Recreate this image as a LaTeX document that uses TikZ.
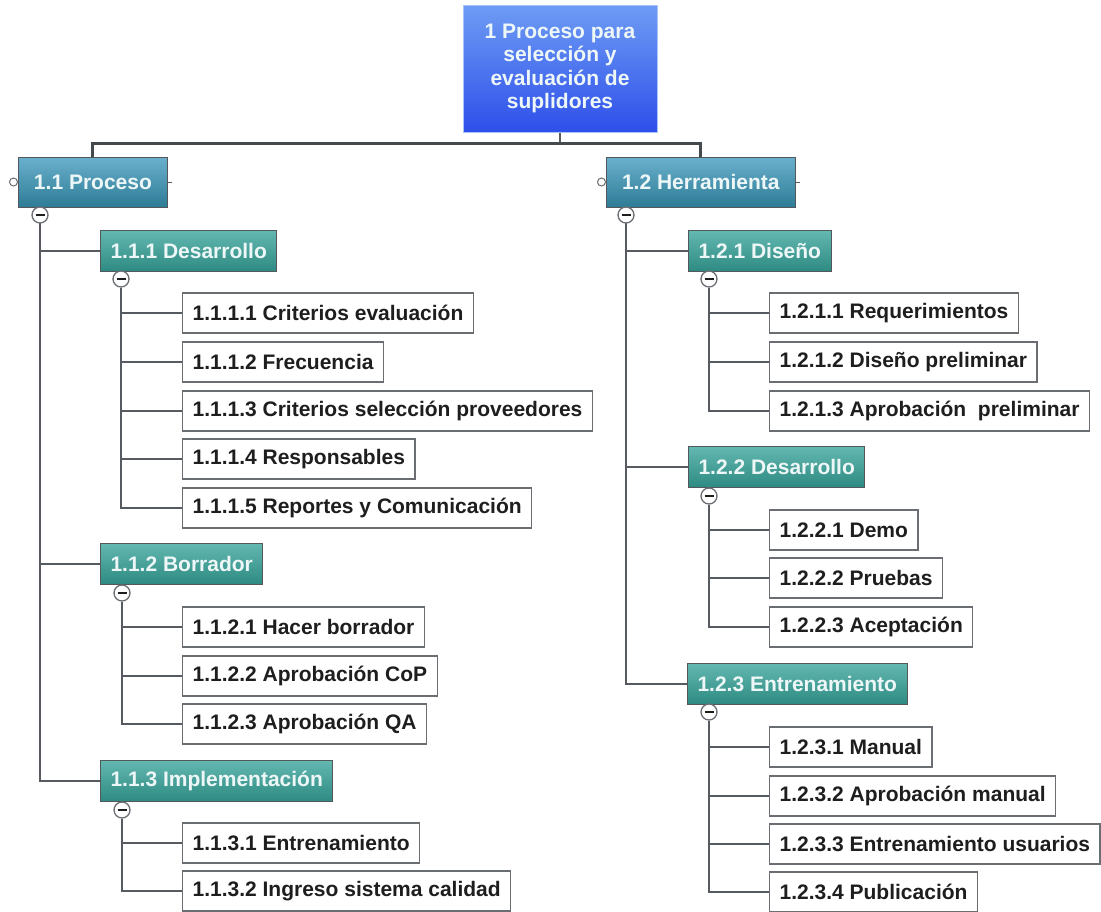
\documentclass[tikz,border=0pt]{standalone}
\usepackage{fontspec}
\setmainfont{Liberation Sans}
\usetikzlibrary{shadings}
\definecolor{rootTop}{HTML}{6E9CF4}
\definecolor{rootBot}{HTML}{2E4FEA}
\definecolor{lvlOneTop}{HTML}{6AB0CC}
\definecolor{lvlOneBot}{HTML}{2E7C97}
\definecolor{lvlTwoTop}{HTML}{63B8B0}
\definecolor{lvlTwoBot}{HTML}{2D8A82}
\definecolor{lineGray}{HTML}{555B60}
\definecolor{boxGray}{HTML}{6A6E72}
\definecolor{inkDark}{HTML}{1E1E1E}
\definecolor{inkLight}{HTML}{EEF7F7}
\tikzset{
  every node/.style={font=\fontsize{21}{23}\selectfont\bfseries},
  rootbox/.style={draw=rootTop!60!white, line width=1pt, top color=rootTop, bottom color=rootBot,
    text=inkLight, align=center, minimum width=194, minimum height=127, inner sep=0,
    font=\fontsize{21}{23.5}\selectfont\bfseries},
  lvlone/.style={draw=boxGray!80!black, line width=1pt, top color=lvlOneTop, bottom color=lvlOneBot,
    text=inkLight, anchor=west, minimum height=50, inner xsep=15.5, inner ysep=0},
  lvltwo/.style={draw=boxGray!80!black, line width=1pt, top color=lvlTwoTop, bottom color=lvlTwoBot,
    text=inkLight, anchor=west, minimum height=41, inner xsep=10, inner ysep=0},
  leaf/.style={draw=boxGray, line width=1.2pt, fill=white, text=inkDark, anchor=west,
    minimum height=40, inner xsep=10, inner ysep=0},
  conn/.style={draw=lineGray, line width=1.5pt},
  bus/.style={draw=lineGray!80!black, line width=3pt},
  knob/.style={circle, draw=boxGray, line width=1pt, fill=white, minimum size=8, inner sep=0},
  collapse/.style={circle, draw=boxGray, line width=1.3pt, fill=white, minimum size=16, inner sep=0,
    path picture={\draw[line width=2pt, inkDark]
      ([xshift=-4.5pt]path picture bounding box.center) -- ([xshift=4.5pt]path picture bounding box.center);}},
}
\begin{document}
\begin{tikzpicture}[x=1pt, y=-1pt]
\useasboundingbox (0,0) rectangle (1101,911);

% top node and the bus to the two main branches
\node[rootbox] (root) at (560,68.5) {1 Proceso para\\selección y\\evaluación de\\suplidores};
\node[lvlone] (n11) at (18,182) {1.1 Proceso};
\node[lvlone] (n12) at (606,182) {1.2 Herramienta};
\coordinate (bus) at (560,143);
\draw[conn] (root.south) -- (bus);
\draw[bus] (n11.north) |- (bus) -| (n12.north);

% small handles on the main branch boxes
\node[knob, anchor=east] (k11) at (n11.west) {};
\node[knob, anchor=east] (k12) at (n12.west) {};
\coordinate (s11) at ([xshift=4pt]n11.east);
\coordinate (s12) at ([xshift=4pt]n12.east);
\draw[conn, line width=1pt] (n11.east) -- (s11);
\draw[conn, line width=1pt] (n12.east) -- (s12);

% ---------- branch 1.1 ----------
\node[lvltwo] (n111) at (100,251) {1.1.1 Desarrollo};
\node[lvltwo] (n112) at (100,564) {1.1.2 Borrador};
\node[lvltwo] (n113) at (100,781) {1.1.3 Implementación};

\node[leaf] (n1111) at (182,313) {1.1.1.1 Criterios evaluación};
\node[leaf] (n1112) at (182,362) {1.1.1.2 Frecuencia};
\node[leaf] (n1113) at (182,411) {1.1.1.3 Criterios selección proveedores};
\node[leaf] (n1114) at (182,459) {1.1.1.4 Responsables};
\node[leaf] (n1115) at (182,508) {1.1.1.5 Reportes y Comunicación};

\node[leaf] (n1121) at (182,627) {1.1.2.1 Hacer borrador};
\node[leaf] (n1122) at (182,676) {1.1.2.2 Aprobación CoP};
\node[leaf] (n1123) at (182,724) {1.1.2.3 Aprobación QA};

\node[leaf] (n1131) at (182,843) {1.1.3.1 Entrenamiento};
\node[leaf] (n1132) at (182,891) {1.1.3.2 Ingreso sistema calidad};

% ---------- branch 1.2 ----------
\node[lvltwo] (n121) at (688,251) {1.2.1 Diseño};
\node[lvltwo] (n122) at (688,467) {1.2.2 Desarrollo};
\node[lvltwo] (n123) at (687,684) {1.2.3 Entrenamiento};

\node[leaf] (n1211) at (769,313) {1.2.1.1 Requerimientos};
\node[leaf] (n1212) at (769,362) {1.2.1.2 Diseño preliminar};
\node[leaf] (n1213) at (769,411) {1.2.1.3 Aprobación\ \ preliminar};

\node[leaf] (n1221) at (769,530) {1.2.2.1 Demo};
\node[leaf] (n1222) at (769,578) {1.2.2.2 Pruebas};
\node[leaf] (n1223) at (769,627) {1.2.2.3 Aceptación};

\node[leaf] (n1231) at (769,747) {1.2.3.1 Manual};
\node[leaf] (n1232) at (769,796) {1.2.3.2 Aprobación manual};
\node[leaf] (n1233) at (769,844) {1.2.3.3 Entrenamiento usuarios};
\node[leaf] (n1234) at (769,892) {1.2.3.4 Publicación};

% ---------- tree connectors ----------
\draw[conn] (40,214) |- (n113.west);
\draw[conn] (40,214 |- n111.west) -- (n111.west);
\draw[conn] (40,214 |- n112.west) -- (n112.west);

\draw[conn] (626,214) |- (n123.west);
\draw[conn] (626,214 |- n121.west) -- (n121.west);
\draw[conn] (626,214 |- n122.west) -- (n122.west);

% ---------- collapse buttons ----------
\node[collapse] (c11) at (40,215) {};
\node[collapse] (c12) at (626,215) {};
\node[collapse] (c111) at (121,279) {};
\node[collapse] (c112) at (122,593) {};
\node[collapse] (c113) at (122,810) {};
\node[collapse] (c121) at (709,279) {};
\node[collapse] (c122) at (709,496) {};
\node[collapse] (c123) at (709,712) {};

\draw[conn] (c111.south) |- (n1115.west);
\foreach \n in {n1111,n1112,n1113,n1114}
  \draw[conn] (c111.south |- \n.west) -- (\n.west);

\draw[conn] (c112.south) |- (n1123.west);
\foreach \n in {n1121,n1122}
  \draw[conn] (c112.south |- \n.west) -- (\n.west);

\draw[conn] (c113.south) |- (n1132.west);
\draw[conn] (c113.south |- n1131.west) -- (n1131.west);

\draw[conn] (c121.south) |- (n1213.west);
\foreach \n in {n1211,n1212}
  \draw[conn] (c121.south |- \n.west) -- (\n.west);

\draw[conn] (c122.south) |- (n1223.west);
\foreach \n in {n1221,n1222}
  \draw[conn] (c122.south |- \n.west) -- (\n.west);

\draw[conn] (c123.south) |- (n1234.west);
\foreach \n in {n1231,n1232,n1233}
  \draw[conn] (c123.south |- \n.west) -- (\n.west);
\end{tikzpicture}
\end{document}
